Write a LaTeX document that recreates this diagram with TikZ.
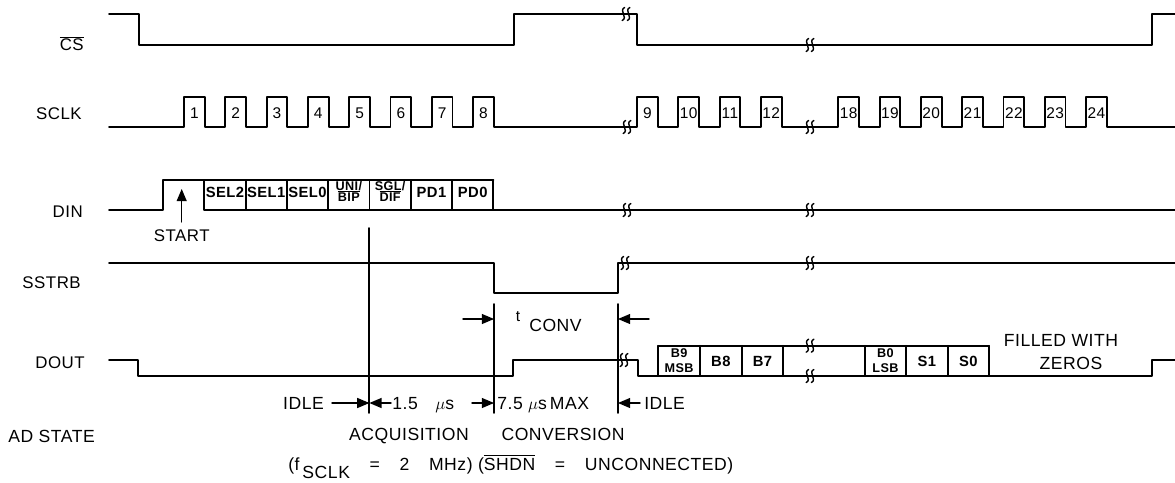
\documentclass[tikz,border=0pt]{standalone}
\usepackage{fontspec}
\setmainfont[LetterSpace=3]{Liberation Sans}
\usetikzlibrary{arrows}
\newcommand{\brkmark}[2]{%
  \foreach \dx in {-2.6,2.6}
    \draw[line width=1pt] ({#1+\dx-1.2},{#2+6.5}) .. controls ({#1+\dx+5},{#2+3.5}) and ({#1+\dx-5},{#2-3.5}) .. ({#1+\dx+1.2},{#2-6.5});}

\begin{document}
\begin{tikzpicture}[line cap=round,line join=round,>=triangle 45,x=0.025cm,y=-0.025cm,
  wave/.style={line width=1.3pt},
  dimline/.style={line width=1pt},
  siglabel/.style={anchor=base east,inner sep=0pt,font=\fontsize{12}{14}\selectfont},
  note/.style={anchor=base,inner sep=0pt,font=\fontsize{12.5}{14}\selectfont},
  cell/.style={anchor=base,inner sep=0pt,font=\fontsize{10.5}{12}\selectfont\bfseries},
  halfcell/.style={anchor=base,inner sep=0pt,font=\fontsize{9}{10}\selectfont\bfseries},
  pnum/.style={anchor=base,inner sep=0pt,font=\fontsize{11}{12}\selectfont}]
\useasboundingbox (0,0) rectangle (1175,482);
\node[siglabel] (cs) at (84,50.7) {$\overline{\mbox{CS}}$};
\node[siglabel] (sclk) at (82,119) {SCLK};
\node[siglabel] (din) at (83,217) {DIN};
\node[siglabel] (sstrb) at (81,288) {SSTRB};
\node[siglabel] (dout) at (85,368) {DOUT};
\node[note,anchor=base west] (adstate) at (8,442.5) {AD STATE};
\draw[wave] (109,14) -- (139,14) -- (139,45) -- (514,45) -- (514,14) -- (637,14) -- (637,45) -- (1152,45) -- (1152,14) -- (1175,14);
\draw[wave] (109,127) foreach \k in {0,...,7} { -- ({184+41.3*\k},127) -- ++(0,-30) -- ++(20.7,0) -- ++(0,30) }
  foreach \k in {0,...,3} { -- ({637+41.3*\k},127) -- ++(0,-30) -- ++(20.7,0) -- ++(0,30) }
  foreach \k in {0,...,6} { -- ({838.3+41.3*\k},127) -- ++(0,-30) -- ++(20.7,0) -- ++(0,30) } -- (1175,127);
\foreach \n in {1,...,8} \node[pnum] (clk\n) at ({194.35+41.3*(\n-1)},118.3) {\n};
\foreach \n in {9,...,12} \node[pnum] (clk\n) at ({647.35+41.3*(\n-9)},118.3) {\n};
\foreach \n in {18,...,24} \node[pnum] (clk\n) at ({848.65+41.3*(\n-18)},118.3) {\n};
\draw[wave] (109,210) -- (163,210) -- (163,180) -- (204.3,180) -- (204.3,210) -- (1175,210);
\draw[wave] (204.3,180) -- (493.4,180);
\foreach \k in {1,...,7} \draw[wave] ({204.3+41.3*\k},180) -- ++(0,30);
\node[cell] (sel2) at (224.95,197.5) {SEL2};
\node[cell] (sel1) at (266.25,197.5) {SEL1};
\node[cell] (sel0) at (307.55,197.5) {SEL0};
\node[halfcell] (uni) at (348.85,190) {UNI/};
\node[halfcell] (bip) at (348.85,201.5) {$\overline{\mbox{BIP}}$};
\node[halfcell] (sgl) at (390.15,190) {SGL/};
\node[halfcell] (dif) at (390.15,201.5) {$\overline{\mbox{DIF}}$};
\node[cell] (pd1) at (431.45,197.5) {PD1};
\node[cell] (pd0) at (472.75,197.5) {PD0};
\draw[->,dimline] (181.7,222) -- (181.7,189);
\node[siglabel,anchor=base] (start) at (181.7,241.7) {START};
\draw[wave] (369.4,228) -- (369.4,413);
\draw[wave] (109,263) -- (494,263) -- (494,293) -- (618,293) -- (618,263) -- (1175,263);
\draw[wave] (494,304) -- (494,413);
\draw[wave] (618,304) -- (618,413);
\draw[->,dimline] (463,319) -- (494,319);
\draw[->,dimline] (649,319) -- (618,319);
\node[pnum] (tsym) at (518,321.7) {t};
\node[note,anchor=base west] (tconv) at (529,331.7) {CONV};
\draw[wave] (109,360) -- (138.3,360) -- (138.3,376) -- (513.3,376) -- (513.3,360) -- (638.3,360) -- (638.3,376) -- (1151.7,376) -- (1151.7,360) -- (1175,360);
\draw[wave] (658.3,345.7) -- (989,345.7);
\foreach \x in {658.3,700,741.7,783.3,865,906,947.7,989} \draw[wave] (\x,345.7) -- (\x,376);
\node[halfcell] (b9) at (679.15,357.5) {B9};
\node[halfcell] (msb) at (679.15,372) {MSB};
\node[cell] (b8) at (720.85,366.5) {B8};
\node[cell] (b7) at (762.5,366.5) {B7};
\node[halfcell] (b0) at (885.5,357.5) {B0};
\node[halfcell] (lsb) at (885.5,372) {LSB};
\node[cell] (s1) at (926.85,366.5) {S1};
\node[cell] (s0) at (968.35,366.5) {S0};
\node[note] (filled) at (1061,346.7) {FILLED WITH};
\node[note] (zeros) at (1071,369) {ZEROS};
\brkmark{626}{14}
\brkmark{810}{45}
\brkmark{627}{127}
\brkmark{810}{127}
\brkmark{627}{210}
\brkmark{810}{210}
\brkmark{625}{263}
\brkmark{810}{263}
\brkmark{624}{360}
\brkmark{810}{345.7}
\brkmark{810}{376}
\node[note] (idle1) at (303.5,409) {IDLE};
\draw[->,dimline] (332,403) -- (369.4,403);
\draw[->,dimline] (391,403) -- (369.4,403);
\node[note,anchor=base west] (acq) at (392,409) {1.5\quad$\mu$s};
\draw[->,dimline] (472,403) -- (494,403);
\node[note,anchor=base west] (cnv) at (497,409) {7.5 $\mu$s\,MAX};
\draw[->,dimline] (640,403) -- (618,403);
\node[note,anchor=base west] (idle2) at (644,409) {IDLE};
\node[note] (acquisition) at (409,440) {ACQUISITION};
\node[note] (conversion) at (563,440) {CONVERSION};
\node[note,anchor=base west] (fsclk) at (288,470) {(f\raisebox{-6pt}{\,SCLK}\hspace{14pt}=\hspace{14pt}2\hspace{14pt}MHz) ($\overline{\mbox{SHDN}}$\hspace{14pt}=\hspace{14pt}UNCONNECTED)};
\end{tikzpicture}
\end{document}
